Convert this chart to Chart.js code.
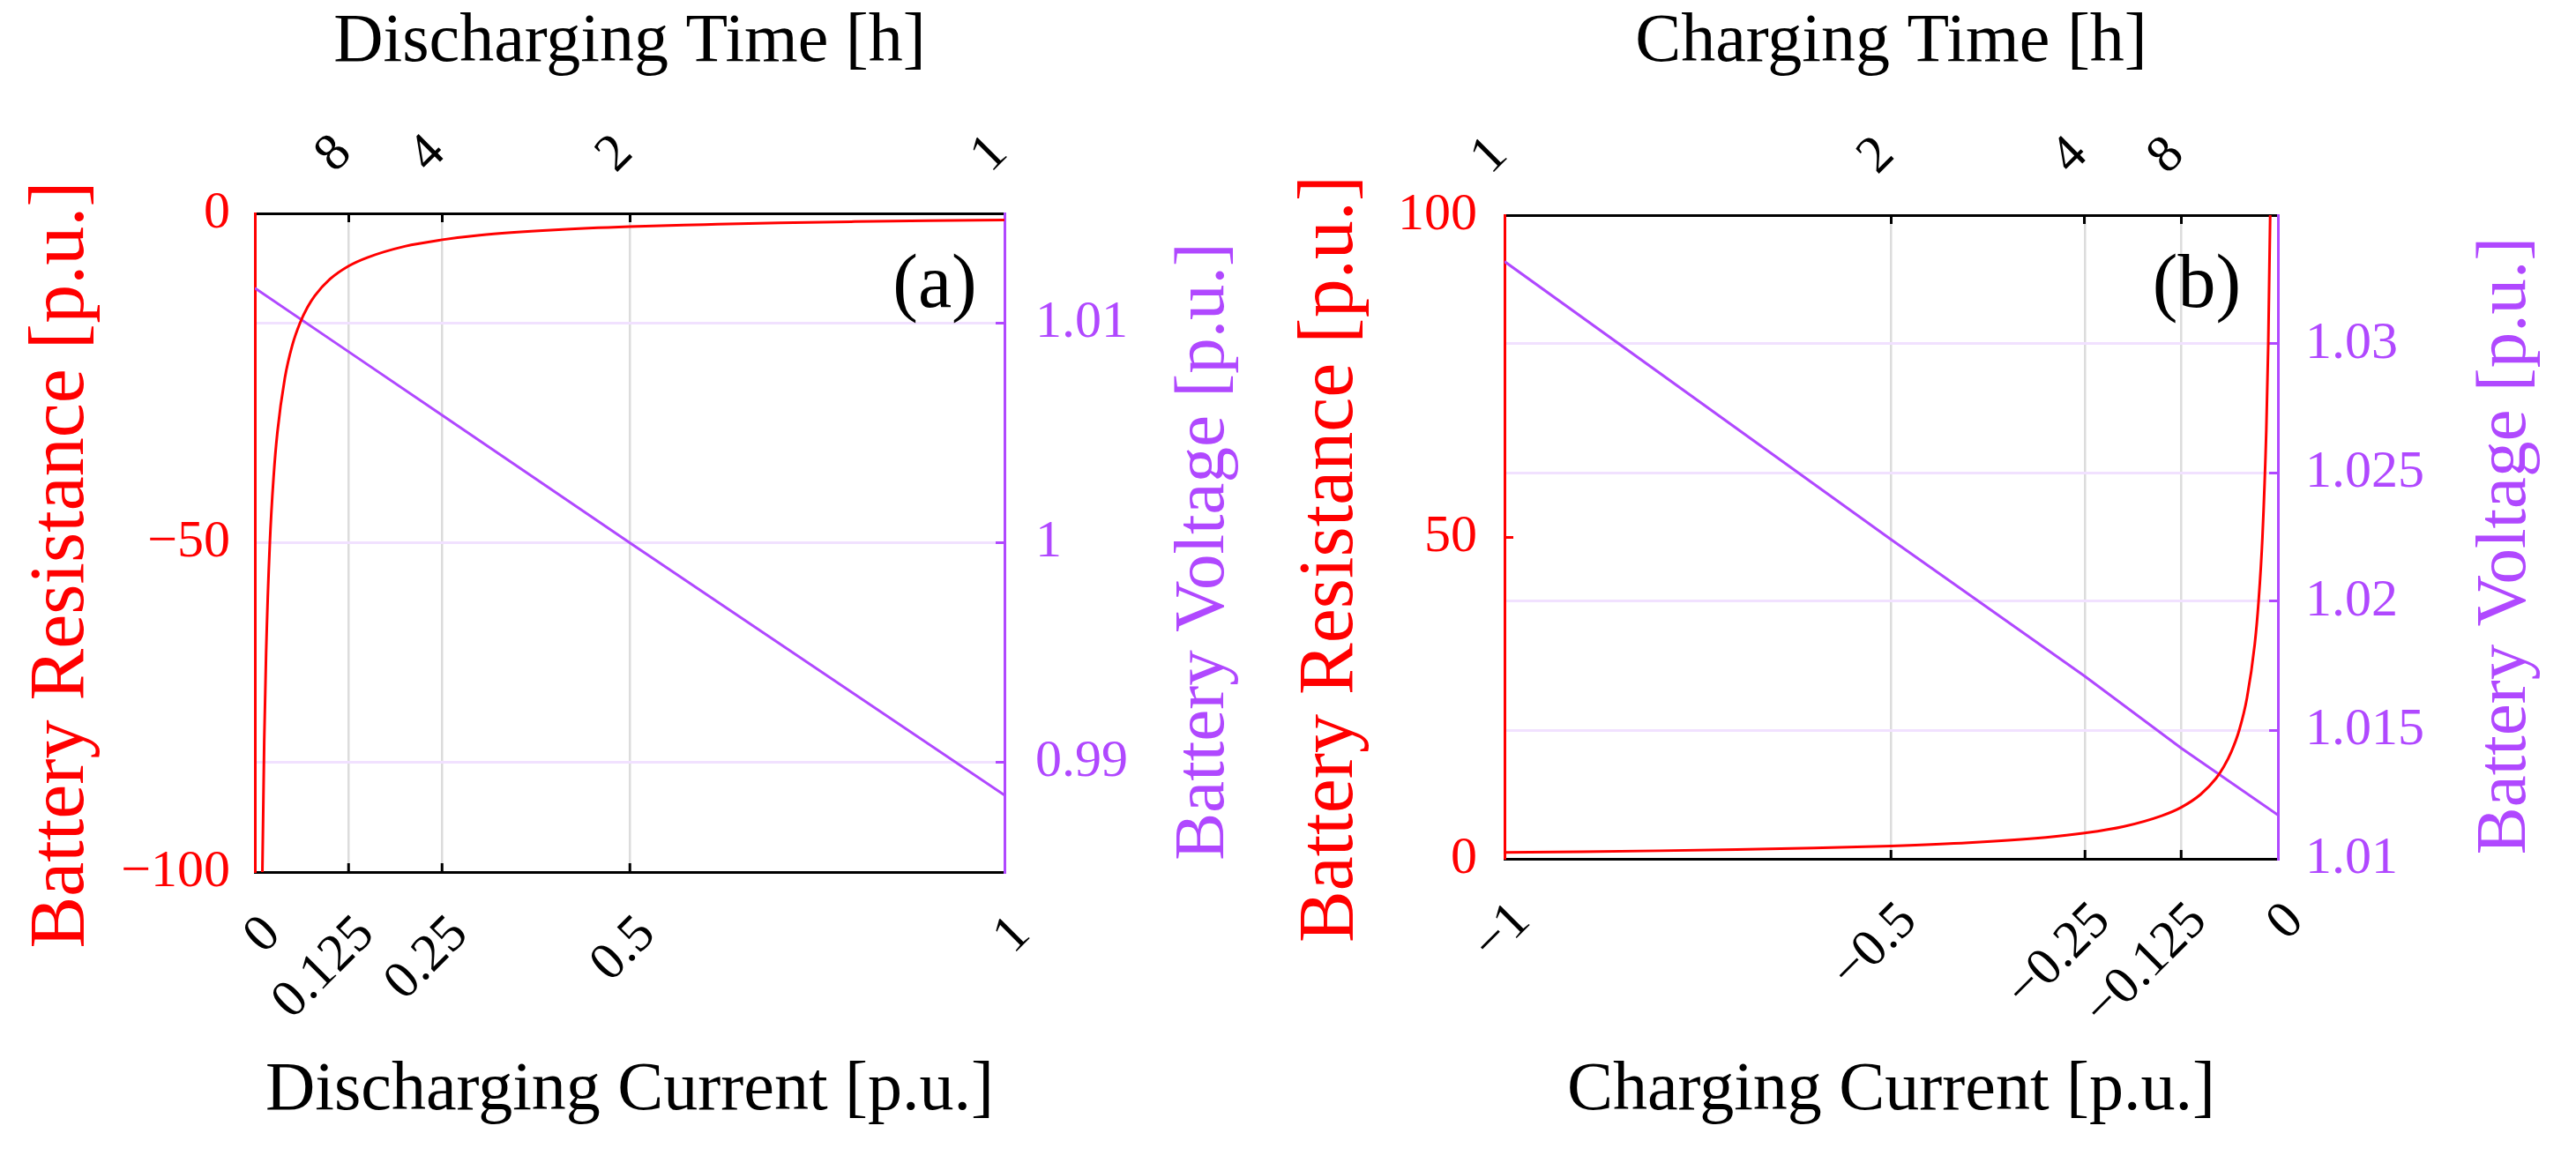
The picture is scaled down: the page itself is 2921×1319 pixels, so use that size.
<!DOCTYPE html>
<html lang="en">
<head>
<meta charset="UTF-8">
<title>Battery Resistance and Voltage</title>
<script src="https://cdn.jsdelivr.net/npm/chart.js@4.4.1/dist/chart.umd.min.js"></script>
<style>
    body {
        margin: 0;
        background: #ffffff;
    }
    .wrap {
        position: relative;
        width: 2921px;
        height: 1319px;
    }
    canvas {
        position: absolute;
        top: 0;
    }
    #chartA { left: 0; }
    #chartB { left: 1460px; }
</style>
</head>
<body>
<div class="wrap">
    <canvas id="chartA" width="1460" height="1319"></canvas>
    <canvas id="chartB" width="1461" height="1319"></canvas>
</div>
<script>
// ---- (a) discharging ----
const disCurrent = [0.009, 0.01, 0.0125, 0.015, 0.02, 0.025, 0.03, 0.04, 0.05, 0.06, 0.07, 0.08, 0.1, 0.125, 0.15, 0.2, 0.25, 0.3, 0.4, 0.5, 0.6, 0.7, 0.8, 0.9, 1];
const disResistance = [-111, -100, -80, -66.7, -50, -40, -33.3, -25, -20, -16.7, -14.3, -12.5, -10, -8, -6.7, -5, -4, -3.3, -2.5, -2, -1.7, -1.43, -1.25, -1.11, -1];
const disVoltCurrent = [0, 0.125, 0.25, 0.5, 1];
const disVoltage = [1.0116, 1.0087, 1.0058, 1.0, 0.9885];
const disCurrentTicks = [0, 0.125, 0.25, 0.5, 1];
const disCurrentLabels = ['0', '0.125', '0.25', '0.5', '1'];
const disTimeTicks = [0.125, 0.25, 0.5, 1];
const disTimeLabels = ['8', '4', '2', '1'];
const disResTicks = [-100, -50, 0];
const disResLabels = ['\u2212100', '\u221250', '0'];
const disVoltTicks = [0.99, 1, 1.01];
const disVoltLabels = ['0.99', '1', '1.01'];

// ---- (b) charging ----
const chCurrent = [-1, -0.9, -0.8, -0.7, -0.6, -0.5, -0.4, -0.3, -0.25, -0.2, -0.15, -0.125, -0.1, -0.08, -0.07, -0.06, -0.05, -0.04, -0.03, -0.025, -0.02, -0.015, -0.0125, -0.01, -0.009];
const chResistance = [1, 1.11, 1.25, 1.43, 1.67, 2, 2.5, 3.33, 4, 5, 6.7, 8, 10, 12.5, 14.3, 16.7, 20, 25, 33.3, 40, 50, 66.7, 80, 100, 111];
const chVoltCurrent = [-1, -0.5, -0.25, -0.125, 0];
const chVoltage = [1.0332, 1.0224, 1.0171, 1.0143, 1.0117];
const chCurrentTicks = [-1, -0.5, -0.25, -0.125, 0];
const chCurrentLabels = ['\u22121', '\u22120.5', '\u22120.25', '\u22120.125', '0'];
const chTimeTicks = [-1, -0.5, -0.25, -0.125];
const chTimeLabels = ['1', '2', '4', '8'];
const chResTicks = [0, 50, 100];
const chResLabels = ['0', '50', '100'];
const chVoltTicks = [1.01, 1.015, 1.02, 1.025, 1.03];
const chVoltLabels = ['1.01', '1.015', '1.02', '1.025', '1.03'];

const RED = '#ff0000';
const PURPLE = '#b048ff';
const GRID = '#dcdcdc';
const VGRID = '#f1e1ff';
const FONT = "'Liberation Serif', 'Times New Roman', serif";
const TICK_SIZE = 60;

function edge(c) {
    const s = c.scale;
    return Math.abs(c.tick.value - s.min) < 1e-9 || Math.abs(c.tick.value - s.max) < 1e-9;
}

// both y titles read bottom-to-top, plus the (a)/(b) tag
const sideTitles = {
    id: 'sideTitles',
    afterDraw(chart, args, o) {
        const ctx = chart.ctx;
        const area = chart.chartArea;
        const midY = (area.top + area.bottom) / 2;

        function vText(text, color, size, x, y) {
            ctx.save();
            ctx.fillStyle = color;
            ctx.font = size + 'px ' + FONT;
            ctx.textAlign = 'center';
            ctx.textBaseline = 'middle';
            ctx.translate(x, y);
            ctx.rotate(-Math.PI / 2);
            ctx.fillText(text, 0, 0);
            ctx.restore();
        }
        vText('Battery Resistance [p.u.]', RED, o.leftSize, o.leftX, midY + o.leftDy);
        vText('Battery Voltage [p.u.]', PURPLE, o.rightSize, area.right + o.rightGap, midY + o.rightDy);

        ctx.save();
        ctx.fillStyle = '#000000';
        ctx.font = '86px ' + FONT;
        ctx.textAlign = 'center';
        ctx.textBaseline = 'middle';
        ctx.fillText(o.tag, area.right - o.tagDx, area.top + o.tagDy);
        ctx.restore();
    }
};

function toPoints(xs, ys) {
    return xs.map((x, i) => ({ x: x, y: ys[i] }));
}

function panel(id, d, L) {
    return new Chart(document.getElementById(id), {
        type: 'line',
        data: {
            datasets: [{
                label: 'Battery Resistance',
                data: toPoints(d.resX, d.resY),
                yAxisID: 'y',
                borderColor: RED,
                borderWidth: 3,
                pointRadius: 0,
                cubicInterpolationMode: 'monotone'
            }, {
                label: 'Battery Voltage',
                data: toPoints(d.voltX, d.voltY),
                yAxisID: 'y1',
                borderColor: PURPLE,
                borderWidth: 3,
                pointRadius: 0
            }]
        },
        options: {
            responsive: false,
            animation: false,
            devicePixelRatio: 1,
            layout: { padding: 0 },
            plugins: {
                legend: { display: false },
                tooltip: { enabled: false },
                sideTitles: {
                    tag: d.tag, tagDx: L.tagDx, tagDy: L.tagDy,
                    leftX: L.leftX, leftDy: 25, leftSize: 88,
                    rightGap: L.rightGap, rightDy: 10, rightSize: 81
                }
            },
            scales: {
                x: {
                    type: 'linear',
                    position: 'bottom',
                    min: d.xMin,
                    max: d.xMax,
                    afterBuildTicks: s => { s.ticks = d.xTicks.map(v => ({ value: v })); },
                    afterFit: s => { s.height = L.bottom; },
                    grid: {
                        color: c => edge(c) ? 'transparent' : GRID,
                        lineWidth: 2.5,
                        tickLength: -10,
                        tickWidth: 3,
                        tickColor: c => edge(c) ? 'transparent' : '#000000'
                    },
                    border: { color: '#000000', width: 3 },
                    ticks: {
                        autoSkip: false,
                        minRotation: 45,
                        maxRotation: 45,
                        padding: 46,
                        labelOffset: 20,
                        color: '#000000',
                        font: { family: FONT, size: TICK_SIZE },
                        callback: (v, i) => d.xLabels[i]
                    },
                    title: {
                        display: true,
                        text: d.xTitle,
                        color: '#000000',
                        font: { family: FONT, size: 78, lineHeight: 1 },
                        padding: { top: 0, bottom: 42 }
                    }
                },
                x2: {
                    type: 'linear',
                    position: 'top',
                    min: d.xMin,
                    max: d.xMax,
                    afterBuildTicks: s => { s.ticks = d.tTicks.map(v => ({ value: v })); },
                    afterFit: s => { s.height = L.top; },
                    grid: {
                        drawOnChartArea: false,
                        tickLength: -10,
                        tickWidth: 3,
                        tickColor: c => edge(c) ? 'transparent' : '#000000'
                    },
                    border: { color: '#000000', width: 3 },
                    ticks: {
                        autoSkip: false,
                        minRotation: 45,
                        maxRotation: 45,
                        padding: 41,
                        labelOffset: 24,
                        color: '#000000',
                        font: { family: FONT, size: TICK_SIZE },
                        callback: (v, i) => d.tLabels[i]
                    },
                    title: {
                        display: true,
                        text: d.tTitle,
                        color: '#000000',
                        font: { family: FONT, size: 78, lineHeight: 1 },
                        padding: { top: 10, bottom: 0 }
                    }
                },
                y: {
                    type: 'linear',
                    position: 'left',
                    min: d.rMin,
                    max: d.rMax,
                    afterBuildTicks: s => { s.ticks = d.rTicks.map(v => ({ value: v })); },
                    afterFit: s => { s.width = L.left; },
                    grid: {
                        drawOnChartArea: false,
                        tickLength: -10,
                        tickWidth: 3,
                        tickColor: c => edge(c) ? 'transparent' : RED
                    },
                    border: { color: RED, width: 3 },
                    ticks: {
                        padding: L.leftPad,
                        color: RED,
                        font: { family: FONT, size: TICK_SIZE },
                        callback: (v, i) => d.rLabels[i]
                    }
                },
                y1: {
                    type: 'linear',
                    position: 'right',
                    min: d.vMin,
                    max: d.vMax,
                    afterBuildTicks: s => { s.ticks = d.vTicks.map(v => ({ value: v })); },
                    afterFit: s => { s.width = L.right; },
                    grid: {
                        color: c => edge(c) ? 'transparent' : VGRID,
                        lineWidth: 3,
                        tickLength: -10,
                        tickWidth: 3,
                        tickColor: c => edge(c) ? 'transparent' : PURPLE
                    },
                    border: { color: PURPLE, width: 3 },
                    ticks: {
                        padding: L.rightPad,
                        color: PURPLE,
                        font: { family: FONT, size: TICK_SIZE },
                        callback: (v, i) => d.vLabels[i]
                    }
                }
            }
        },
        plugins: [sideTitles]
    });
}

panel('chartA', {
    tag: '(a)',
    resX: disCurrent, resY: disResistance,
    voltX: disVoltCurrent, voltY: disVoltage,
    xMin: 0, xMax: 1, xTicks: disCurrentTicks, xLabels: disCurrentLabels,
    tTicks: disTimeTicks, tLabels: disTimeLabels,
    rMin: -100, rMax: 0, rTicks: disResTicks, rLabels: disResLabels,
    vMin: 0.985, vMax: 1.015, vTicks: disVoltTicks, vLabels: disVoltLabels,
    xTitle: 'Discharging Current [p.u.]',
    tTitle: 'Discharging Time [h]'
}, {
    left: 289, right: 321, top: 242, bottom: 330,
    leftPad: 38, rightPad: 45, leftX: 71,
    rightGap: 227, tagDx: 79, tagDy: 83
});

panel('chartB', {
    tag: '(b)',
    resX: chCurrent, resY: chResistance,
    voltX: chVoltCurrent, voltY: chVoltage,
    xMin: -1, xMax: 0, xTicks: chCurrentTicks, xLabels: chCurrentLabels,
    tTicks: chTimeTicks, tLabels: chTimeLabels,
    rMin: 0, rMax: 100, rTicks: chResTicks, rLabels: chResLabels,
    vMin: 1.01, vMax: 1.035, vTicks: chVoltTicks, vLabels: chVoltLabels,
    xTitle: 'Charging Current [p.u.]',
    tTitle: 'Charging Time [h]'
}, {
    left: 246, right: 338, top: 244, bottom: 345,
    leftPad: 41, rightPad: 41, leftX: 50,
    rightGap: 259, tagDx: 92, tagDy: 81
});
</script>
</body>
</html>
